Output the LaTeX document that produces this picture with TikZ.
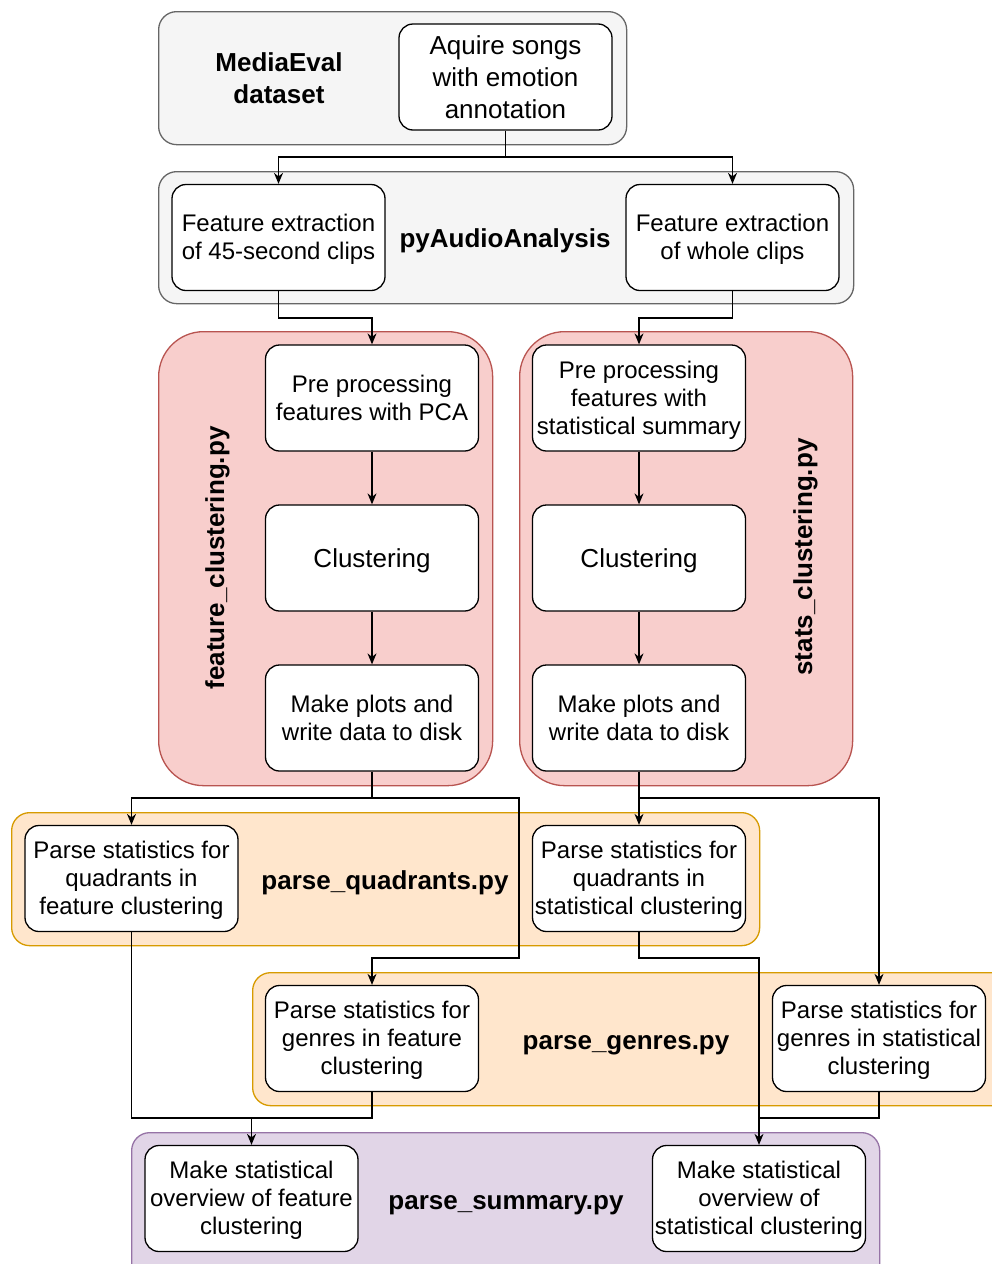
\documentclass[tikz,border=0pt]{standalone}
\usepackage{fontspec}
\setmainfont{Liberation Sans}
\usetikzlibrary{arrows.meta}
\definecolor{grayfill}{HTML}{F5F5F5}
\definecolor{graydraw}{HTML}{666666}
\definecolor{redfill}{HTML}{F8CECC}
\definecolor{reddraw}{HTML}{B85450}
\definecolor{orfill}{HTML}{FFE6CC}
\definecolor{ordraw}{HTML}{D79B00}
\definecolor{purfill}{HTML}{E1D5E7}
\definecolor{purdraw}{HTML}{9673A6}
\newcommand{\sta}{\rule[-5.7pt]{0pt}{28pt}}
\newcommand{\stb}{\rule[-7pt]{0pt}{32pt}}
\tikzset{
  cont/.style={line width=1.3pt, anchor=north west, inner sep=0pt},
  graycont/.style={cont, draw=graydraw, fill=grayfill, rounded corners=18pt},
  redcont/.style={cont, draw=reddraw, fill=redfill, rounded corners=45pt},
  orcont/.style={cont, draw=ordraw, fill=orfill, rounded corners=18pt},
  purcont/.style={cont, draw=purdraw, fill=purfill, rounded corners=18pt},
  stepbox/.style={draw=black, fill=white, line width=1.3pt, rounded corners=14pt,
    minimum width=213pt, minimum height=106pt, inner sep=0pt, align=center,
    font=\fontsize{24}{28}\selectfont, execute at end node=\sta},
  bigbox/.style={stepbox, font=\fontsize{26}{32}\selectfont,
    execute at end node=\stb},
  lbl/.style={align=center, inner sep=0pt, font=\bfseries\fontsize{26}{32}\selectfont,
    execute at end node=\stb},
  arr/.style={draw=black, line width=1.3pt, -{Stealth[length=11pt,width=9pt]}},
  ln/.style={draw=black, line width=1.3pt},
}
\begin{document}
\begin{tikzpicture}[x=1pt,y=-1pt]
\useasboundingbox (0,0) rectangle (992,1264);
\fill[white] (0,0) rectangle (992,1264);
% containers
\node[graycont, minimum width=468pt, minimum height=133pt] (cMedia) at (158,11) {};
\node[graycont, minimum width=695pt, minimum height=132pt] (cPy) at (158,171) {};
\node[redcont, minimum width=334pt, minimum height=454pt] (cFeat) at (158,331) {};
\node[redcont, minimum width=333pt, minimum height=454pt] (cStat) at (519,331) {};
\node[orcont, minimum width=748pt, minimum height=133pt] (cQuad) at (11,812) {};
\node[orcont, minimum width=760pt, minimum height=133pt] (cGen) at (252,972) {};
\node[purcont, minimum width=748pt, minimum height=150pt] (cSum) at (131,1132) {};
% labels
\node[lbl] (lMedia) at (279,78) {\stb MediaEval\\dataset};
\node[lbl] (lPy) at (505,238) {\stb pyAudioAnalysis};
\node[lbl, rotate=90] (lFeat) at (215,558) {\stb feature\_clustering.py};
\node[lbl, rotate=90] (lStat) at (803,557) {\stb stats\_clustering.py};
\node[lbl] (lQuad) at (385,880) {\stb parse\_quadrants.py};
\node[lbl] (lGen) at (626,1040) {\stb parse\_genres.py};
\node[lbl] (lSum) at (506,1200) {\stb parse\_summary.py};
% boxes
\node[bigbox] (aq) at (505.5,77) {\stb Aquire songs\\with emotion\\annotation};
\node[stepbox] (fe45) at (278.5,237.5) {\sta Feature extraction\\of 45-second clips};
\node[stepbox] (few) at (732.5,237.5) {\sta Feature extraction\\of whole clips};
\node[stepbox] (pre1) at (372,398) {\sta Pre processing\\features with PCA};
\node[bigbox] (cl1) at (372,558) {\stb Clustering};
\node[stepbox] (mp1) at (372,718) {\sta Make plots and\\write data to disk};
\node[stepbox] (pre2) at (639,398) {\sta Pre processing\\features with\\statistical summary};
\node[bigbox] (cl2) at (639,558) {\stb Clustering};
\node[stepbox] (mp2) at (639,718) {\sta Make plots and\\write data to disk};
\node[stepbox] (pq1) at (131.5,878.5) {\sta Parse statistics for\\quadrants in\\feature clustering};
\node[stepbox] (pq2) at (639,878.5) {\sta Parse statistics for\\quadrants in\\statistical clustering};
\node[stepbox] (pg1) at (372,1038.5) {\sta Parse statistics for\\genres in feature\\clustering};
\node[stepbox] (pg2) at (879,1038.5) {\sta Parse statistics for\\genres in statistical\\clustering};
\node[stepbox] (ps1) at (251.5,1198.5) {\sta Make statistical\\overview of feature\\clustering};
\node[stepbox] (ps2) at (759,1198.5) {\sta Make statistical\\overview of\\statistical clustering};
% junctions
\coordinate (j1) at (505.5,157);
\coordinate (j2a) at (278.5,318);
\coordinate (j2b) at (732.5,318);
\coordinate (j3) at (372,798);
\coordinate (j3r) at (519,798);
\coordinate (j3d) at (519,958);
\coordinate (j4) at (639,798);
\coordinate (j5) at (251.5,1118);
\coordinate (j6) at (639,958);
\coordinate (j7) at (759,1118);
% connectors
\draw[ln] (aq.south) -- (j1);
\draw[arr] (j1) -| (fe45.north);
\draw[arr] (j1) -| (few.north);
\draw[arr] (fe45.south) -- (j2a) -| (pre1.north);
\draw[arr] (few.south) -- (j2b) -| (pre2.north);
\draw[arr] (pre1) -- (cl1);
\draw[arr] (cl1) -- (mp1);
\draw[arr] (pre2) -- (cl2);
\draw[arr] (cl2) -- (mp2);
\draw[ln] (mp1.south) -- (j3);
\draw[arr] (j3) -| (pq1.north);
\draw[arr] (j3) -- (j3r) -- (j3d) -| (pg1.north);
\draw[arr] (mp2.south) -- (pq2.north);
\draw[arr] (j4) -| (pg2.north);
\draw[ln] (pq1.south) |- (j5);
\draw[ln] (pg1.south) |- (j5);
\draw[arr] (j5) -- (ps1.north);
\draw[arr] (pq2.south) -- (j6) -| (ps2.north);
\draw[ln] (pg2.south) |- (j7);
\end{tikzpicture}
\end{document}
